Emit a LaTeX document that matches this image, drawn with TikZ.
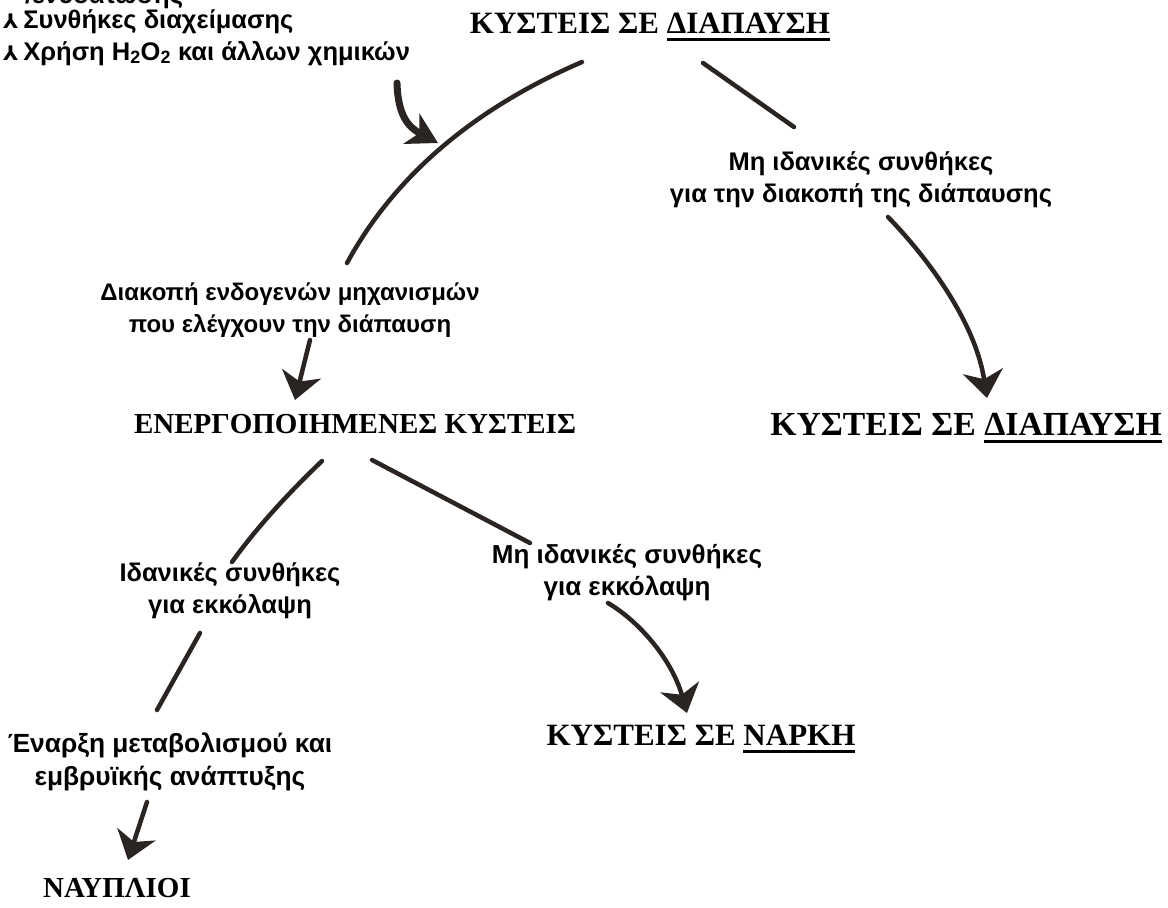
\documentclass[tikz,border=0pt]{standalone}
\usepackage{fontspec}
\setmainfont{Liberation Serif}
\setsansfont{Liberation Sans}
\newfontfamily\bulfont{DejaVu Sans}
\usetikzlibrary{arrows.meta}
\definecolor{ink}{HTML}{2A2522}
\newsavebox\ulbox
\newcommand\ulword[1]{\sbox\ulbox{#1}\rlap{\rule[-8pt]{\wd\ulbox}{2.6pt}}\usebox\ulbox}
\newcommand\bul{{\bulfont\fontsize{20}{20}\selectfont ⅄}\hspace{5pt}}

\begin{document}
\begin{tikzpicture}[x=1pt,y=-1pt]
  \tikzset{Title/.style={font=\bfseries\fontsize{31}{31}\selectfont, inner sep=0pt, anchor=base},
    Label/.style={font=\sffamily\bfseries\fontsize{25.5}{32}\selectfont, align=center, inner sep=0pt, anchor=base},
    Item/.style={font=\sffamily\bfseries\fontsize{25.5}{32}\selectfont, inner sep=0pt, anchor=base west},
    Branch/.style={ink, line width=4.5pt, line cap=round},
    Pointer/.style={Branch, -{Stealth[length=27pt,width=40pt,inset=8pt]}}}
  \clip (0,0) rectangle (1168,908);
  \useasboundingbox (0,0) rectangle (1168,908);
  % list of treatments
  \node[Item] (i1) at (25,3) {/ενυδάτωσης};
  \node[Item] (i2) at (3,28) {\bul Συνθήκες διαχείμασης};
  \node[Item] (i3) at (3,60) {\bul Χρήση H\textsubscript{2}O\textsubscript{2} και άλλων χημικών};
  % titles
  \node[Title] (d1) at (650,33) {ΚΥΣΤΕΙΣ ΣΕ \ulword{ΔΙΑΠΑΥΣΗ}};
  \node[Title, font=\bfseries\fontsize{33.7}{33}\selectfont] (d2) at (966,435) {ΚΥΣΤΕΙΣ ΣΕ \ulword{ΔΙΑΠΑΥΣΗ}};
  \node[Title, font=\bfseries\fontsize{29}{29}\selectfont] (e) at (355,433) {ΕΝΕΡΓΟΠΟΙΗΜΕΝΕΣ ΚΥΣΤΕΙΣ};
  \node[Title] (n) at (701,745) {ΚΥΣΤΕΙΣ ΣΕ \ulword{ΝΑΡΚΗ}};
  \node[Title, font=\bfseries\fontsize{29}{29}\selectfont] (v) at (117,897) {ΝΑΥΠΛΙΟΙ};
  % conditions
  \node[Label] (l1) at (861,202) {Μη ιδανικές συνθήκες\\για την διακοπή της διάπαυσης};
  \node[Label, font=\sffamily\bfseries\fontsize{24}{32}\selectfont] (l2) at (290,332) {Διακοπή ενδογενών μηχανισμών\\που ελέγχουν την διάπαυση};
  \node[Label] (l3) at (230,613) {Ιδανικές συνθήκες\\για εκκόλαψη};
  \node[Label, font=\sffamily\bfseries\fontsize{26}{32}\selectfont] (l4) at (627,595) {Μη ιδανικές συνθήκες\\για εκκόλαψη};
  \node[Label, font=\sffamily\bfseries\fontsize{26.3}{33}\selectfont] (l5) at (170,785) {Έναρξη μεταβολισμού και\\εμβρυϊκής ανάπτυξης};
  % free ends
  \coordinate (a1) at (582,62);  \coordinate (b1) at (347,263);
  \coordinate (a2) at (397,83);  \coordinate (b2) at (438,143);
  \coordinate (a3) at (703,63);  \coordinate (b3) at (794,127);
  \coordinate (a4) at (888,217); \coordinate (b4) at (987,398);
  \coordinate (a5) at (310,340); \coordinate (b5) at (295,400);
  \coordinate (a6) at (322,461); \coordinate (b6) at (232,562);
  \coordinate (a7) at (372,460); \coordinate (b7) at (530,543);
  \coordinate (a8) at (200,633); \coordinate (b8) at (157,710);
  \coordinate (a9) at (608,603); \coordinate (b9) at (687,713);
  \coordinate (a10) at (147,802); \coordinate (b10) at (128,860);
  \draw[Branch] (a1) .. controls (475,108) and (395,175) .. (b1);
  \draw[Pointer, line width=7pt, -{Stealth[length=30pt,width=34pt,inset=9pt]}] (a2) .. controls (398,118) and (410,128) .. (b2);
  \draw[Branch] (a3) -- (b3);
  \draw[Pointer] (a4) .. controls (925,255) and (975,320) .. (b4);
  \draw[Pointer] (a5) -- (b5);
  \draw[Branch] (a6) .. controls (300,482) and (262,520) .. (b6);
  \draw[Branch] (a7) -- (b7);
  \draw[Branch] (a8) -- (b8);
  \draw[Pointer] (a9) .. controls (640,622) and (672,660) .. (b9);
  \draw[Pointer] (a10) -- (b10);
\end{tikzpicture}
\end{document}
